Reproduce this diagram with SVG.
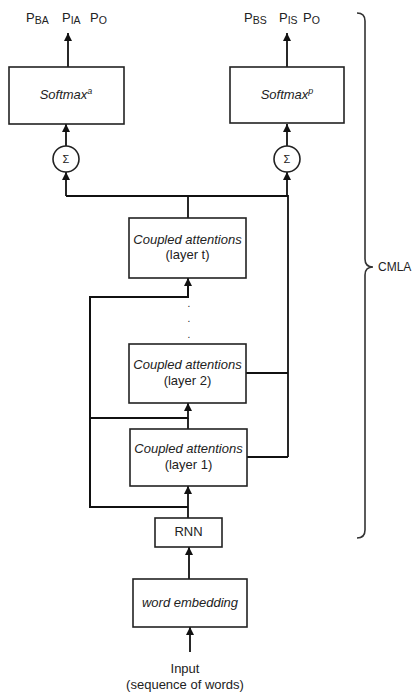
<svg xmlns="http://www.w3.org/2000/svg" width="414" height="692" viewBox="0 0 414 692">
<style>
.box{fill:#fff;stroke:#222;stroke-width:1.6}
.ln{fill:none;stroke:#111;stroke-width:1.8}
.t{font-family:"Liberation Sans",Arial,sans-serif;font-size:13px;fill:#222;text-anchor:middle}
.i{font-style:italic}
.p{font-family:"Liberation Sans",Arial,sans-serif;font-size:13px;fill:#222}
.s{font-size:10.5px}
.sup{font-size:9px}
</style>
<defs>
<marker id="ah" markerUnits="userSpaceOnUse" markerWidth="9" markerHeight="9" refX="8" refY="4" orient="auto">
<path d="M0,0 L8,4 L0,8 z" fill="#111"/>
</marker>
</defs>
<g id="connectors">
<line class="ln" x1="68" y1="67" x2="68" y2="33" marker-end="url(#ah)"/>
<line class="ln" x1="287" y1="67" x2="287" y2="33" marker-end="url(#ah)"/>
<line class="ln" x1="66" y1="146" x2="66" y2="124" marker-end="url(#ah)"/>
<line class="ln" x1="287" y1="146" x2="287" y2="124" marker-end="url(#ah)"/>
<polyline class="ln" points="288,457 288,196 66,196"/>
<line class="ln" x1="66" y1="196" x2="66" y2="172" marker-end="url(#ah)"/>
<line class="ln" x1="287" y1="196" x2="287" y2="172" marker-end="url(#ah)"/>
<line class="ln" x1="188" y1="218" x2="188" y2="196"/>
<line class="ln" x1="246" y1="373" x2="288" y2="373"/>
<line class="ln" x1="247" y1="457" x2="288" y2="457"/>
<polyline class="ln" points="188,507 90,507 90,297 188,297 188,278" marker-end="url(#ah)" style="stroke-width:2"/>
<polyline class="ln" points="90,418 188,418 188,403" marker-end="url(#ah)"/>
<line class="ln" x1="188" y1="429" x2="188" y2="418"/>
<line class="ln" x1="188" y1="518" x2="188" y2="486" marker-end="url(#ah)"/>
<line class="ln" x1="189" y1="579" x2="189" y2="547" marker-end="url(#ah)"/>
<line class="ln" x1="190" y1="652" x2="190" y2="627" marker-end="url(#ah)"/>
</g>
<g id="outputs-a">
<text class="p" x="26" y="22">P<tspan class="s" dy="1.5">BA</tspan></text>
<text class="p" x="62" y="22">P<tspan class="s" dy="1.5">IA</tspan></text>
<text class="p" x="90" y="22">P<tspan class="s" dy="1.5">O</tspan></text>
</g>
<g id="outputs-p">
<text class="p" x="244" y="22">P<tspan class="s" dy="1.5">BS</tspan></text>
<text class="p" x="279" y="22">P<tspan class="s" dy="1.5">IS</tspan></text>
<text class="p" x="303" y="22">P<tspan class="s" dy="1.5">O</tspan></text>
</g>
<g id="softmax-a">
<rect class="box" x="9" y="67" width="115" height="57"/>
<text class="t i" x="66" y="99">Softmax<tspan class="sup" dy="-5">a</tspan></text>
</g>
<g id="softmax-p">
<rect class="box" x="230" y="67" width="114" height="56"/>
<text class="t i" x="287" y="99">Softmax<tspan class="sup" dy="-5">p</tspan></text>
</g>
<g id="sum-a">
<circle class="box" cx="66" cy="159" r="13"/>
<text class="t" x="66" y="163" style="font-size:11px">Σ</text>
</g>
<g id="sum-p">
<circle class="box" cx="287" cy="159" r="13"/>
<text class="t" x="287" y="163" style="font-size:11px">Σ</text>
</g>
<g id="layer-t">
<rect class="box" x="129" y="218" width="117" height="60"/>
<text class="t i" x="187.5" y="244">Coupled attentions</text>
<text class="t" x="187.5" y="259">(layer t)</text>
</g>
<g id="dots">
<text class="t" x="189" y="307" style="font-size:10px">.</text>
<text class="t" x="189" y="322" style="font-size:10px">.</text>
<text class="t" x="189" y="338" style="font-size:10px">.</text>
</g>
<g id="layer-2">
<rect class="box" x="129" y="344" width="117" height="59"/>
<text class="t i" x="187.5" y="369">Coupled attentions</text>
<text class="t" x="187.5" y="385">(layer 2)</text>
</g>
<g id="layer-1">
<rect class="box" x="130" y="429" width="117" height="57"/>
<text class="t i" x="188.5" y="453">Coupled attentions</text>
<text class="t" x="188.5" y="469">(layer 1)</text>
</g>
<g id="rnn">
<rect class="box" x="155" y="518" width="67" height="29"/>
<text class="t" x="188.5" y="536">RNN</text>
</g>
<g id="word-embedding">
<rect class="box" x="133" y="579" width="114" height="48"/>
<text class="t i" x="190" y="607">word embedding</text>
</g>
<g id="input">
<text class="t" x="185" y="673">Input</text>
<text class="t" x="185" y="689">(sequence of words)</text>
</g>
<g id="cmla">
<path d="M357,13 Q365,13 365,21 L365,259 Q365,267 373,267 Q365,267 365,275 L365,530 Q365,538 357,538" fill="none" stroke="#333" stroke-width="1.6"/>
<text class="p" x="378" y="271" style="font-size:12px">CMLA</text>
</g>
</svg>
